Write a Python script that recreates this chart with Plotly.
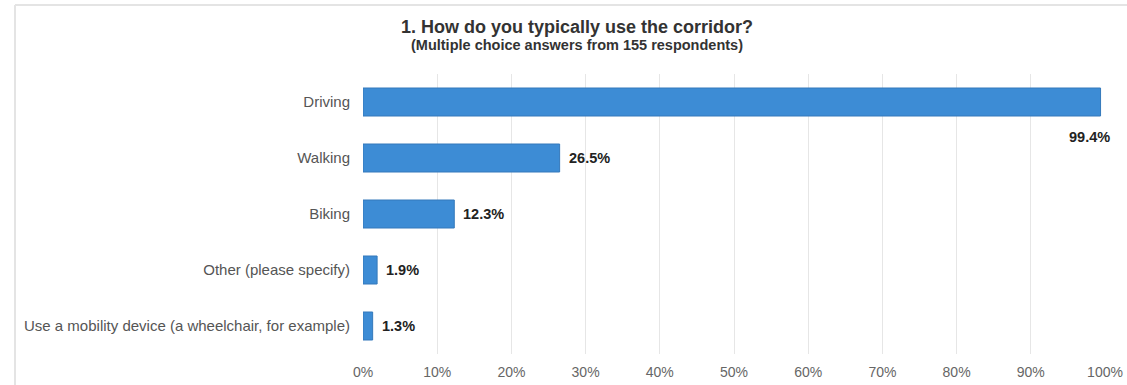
import plotly.graph_objects as go

# Survey responses, top to bottom
categories = [
    "Driving",
    "Walking",
    "Biking",
    "Other (please specify)",
    "Use a mobility device (a wheelchair, for example)",
]
percentages = [99.4, 26.5, 12.3, 1.9, 1.3]
tick_values = [0, 10, 20, 30, 40, 50, 60, 70, 80, 90, 100]
tick_labels = [f"{v}%" for v in tick_values]

title_text = "1. How do you typically use the corridor?"
subtitle_text = "(Multiple choice answers from 155 respondents)"

FONT = "Liberation Sans, Arial, Helvetica, sans-serif"
BAR_COLOR = "#3d8cd5"

fig = go.Figure(
    go.Bar(
        x=percentages,
        y=categories,
        orientation="h",
        marker=dict(color=BAR_COLOR, line=dict(color="#3479bb", width=1)),
        width=0.5,
        hoverinfo="skip",
    )
)

# Value labels: beside the bar, or tucked under the end of a bar that fills the axis
annotations = []
for cat, val in zip(categories, percentages):
    if val > 90:
        annotations.append(dict(
            x=val, y=cat, xref="x", yref="y", text=f"<b>{val}%</b>",
            showarrow=False, xanchor="right", yanchor="middle",
            xshift=11, yshift=-35,
            font=dict(family=FONT, size=14.5, color="#222222"),
        ))
    else:
        annotations.append(dict(
            x=val, y=cat, xref="x", yref="y", text=f"<b>{val}%</b>",
            showarrow=False, xanchor="left", yanchor="middle",
            xshift=7,
            font=dict(family=FONT, size=14.5, color="#222222"),
        ))

annotations.append(dict(
    x=0.289, y=(354 - 27) / 280, xref="paper", yref="paper", text=f"<b>{title_text}</b>",
    showarrow=False, xanchor="center", yanchor="middle",
    font=dict(family=FONT, size=18, color="#333333"),
))
annotations.append(dict(
    x=0.289, y=(354 - 45) / 280, xref="paper", yref="paper", text=f"<b>{subtitle_text}</b>",
    showarrow=False, xanchor="center", yanchor="middle",
    font=dict(family=FONT, size=14.5, color="#333333"),
))

fig.update_layout(
    width=1127,
    height=385,
    margin=dict(l=363, r=22, t=74, b=31),
    paper_bgcolor="white",
    plot_bgcolor="white",
    showlegend=False,
    annotations=annotations,
    xaxis=dict(
        range=[0, 100],
        tickvals=tick_values,
        ticktext=tick_labels,
        showgrid=True,
        gridcolor="#e6e6e6",
        gridwidth=1,
        zeroline=False,
        showline=False,
        tickfont=dict(family=FONT, size=14, color="#666666"),
        ticks="",
        ticklabelstandoff=8,
        automargin=False,
        fixedrange=True,
    ),
    yaxis=dict(
        categoryorder="array",
        categoryarray=categories[::-1],
        autorange=False,
        range=[-0.5, 4.5],
        showgrid=False,
        zeroline=False,
        showline=False,
        ticks="",
        ticklabelstandoff=12,
        automargin=False,
        tickfont=dict(family=FONT, size=15, color="#555555"),
        fixedrange=True,
    ),
    shapes=[
        dict(type="line", xref="paper", yref="paper",
             x0=-0.469, x1=1.05, y0=1.246, y1=1.246,
             line=dict(color="#e4e4e4", width=2)),
        dict(type="line", xref="paper", yref="paper",
             x0=-0.469, x1=-0.469, y0=1.246, y1=-0.2,
             line=dict(color="#e4e4e4", width=2)),
    ],
)

fig.write_html("out.html")
